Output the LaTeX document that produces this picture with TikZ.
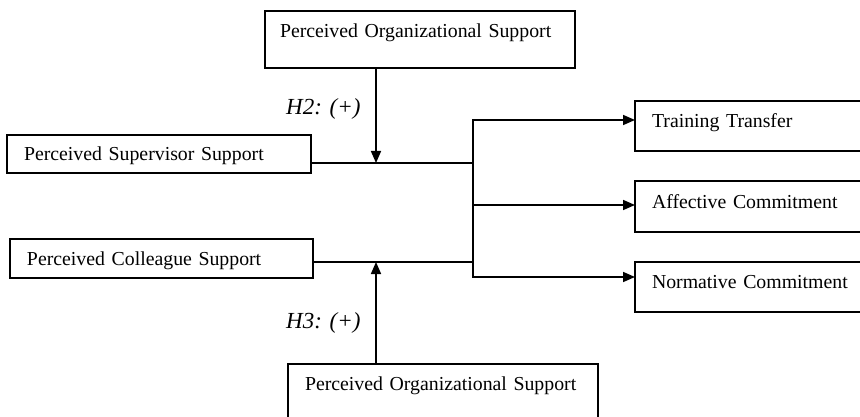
\documentclass[tikz,border=0pt]{standalone}
\usepackage{fontspec}
\setmainfont{Liberation Serif}
\usetikzlibrary{arrows.meta}
\begin{document}
\begin{tikzpicture}[x=1pt,y=-1pt,
  box/.style={draw, line width=1.6pt, outer sep=0pt, inner ysep=0pt, align=left, anchor=north west,
    font=\fontsize{19.8}{22}\selectfont},
  conn/.style={line width=1.6pt},
  arr/.style={conn, -{Triangle[length=12pt,width=10pt]}},
  hyp/.style={anchor=base west, inner sep=0pt, font=\fontsize{23}{26}\selectfont\itshape}]
\useasboundingbox (0,0) rectangle (860,417);
\clip (0,0) rectangle (860,417);
\fill[white] (0,0) rectangle (860,417);
% boxes
\node[box, inner xsep=15pt, text width=280pt, text height=27pt, text depth=30pt] (pos1) at (265,11) {Perceived Organizational Support};
\node[box, inner xsep=17pt, text width=270pt, text height=26pt, text depth=12pt] (sup) at (7,135) {Perceived Supervisor Support};
\node[box, inner xsep=17pt, text width=269pt, text height=26pt, text depth=13pt] (col) at (10,239) {Perceived Colleague Support};
\node[box, inner xsep=17pt, text width=216pt, text height=27pt, text depth=23pt] (tt) at (635,101) {Training Transfer};
\node[box, inner xsep=17pt, text width=216pt, text height=27pt, text depth=24pt] (ac) at (635,181) {Affective Commitment};
\node[box, inner xsep=17pt, text width=216pt, text height=26pt, text depth=24pt] (nc) at (635,262) {Normative Commitment};
\node[box, inner xsep=17pt, text width=276pt, text height=26pt, text depth=60pt] (pos2) at (288,364) {Perceived Organizational Support};
% junctions
\coordinate (j1) at (376,163);
\coordinate (j2) at (376,262);
\coordinate (t1) at (473,163);
\coordinate (t2) at (473,262);
\coordinate (tr) at (473,120);
\coordinate (tm) at (473,205);
\coordinate (tb) at (473,277);
% connectors
\draw[conn] ([yshift=10pt]sup.south east) -- (t1);
\draw[conn] ([yshift=16pt]col.south east) -- (t2);
\draw[conn, line cap=rect] (tb) -- (tr);
\draw[arr] (tr) -- ([yshift=31pt]tt.south west);
\draw[arr] (tm) -- ([yshift=27pt]ac.south west);
\draw[arr] (tb) -- ([yshift=35pt]nc.south west);
\draw[arr] ([xshift=111pt]pos1.south west) -- (j1);
\draw[arr] ([xshift=88pt]pos2.north west) -- (j2);
% hypothesis labels
\node[hyp] (h2) at (286,115) {H2: (+)};
\node[hyp] (h3) at (286,328) {H3: (+)};
\end{tikzpicture}
\end{document}
